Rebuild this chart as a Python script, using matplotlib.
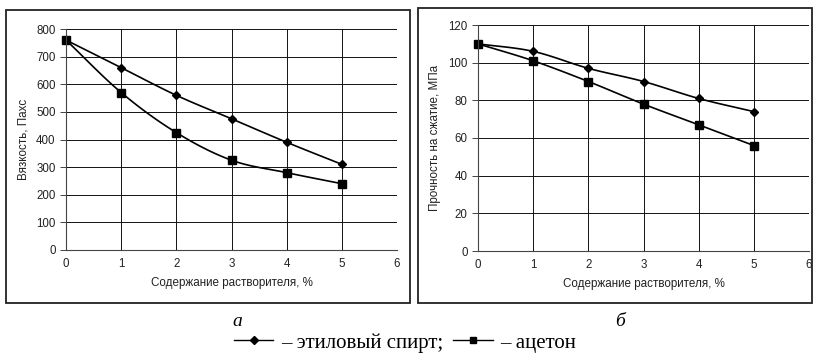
import numpy as np
import matplotlib.pyplot as plt
from matplotlib.lines import Line2D
from matplotlib.patches import Rectangle

x = [0, 1, 2, 3, 4, 5]
visc_ethanol = [760, 660, 560, 475, 390, 310]
visc_acetone = [760, 570, 425, 325, 280, 240]
str_ethanol = [110, 106, 97, 90, 81, 74]
str_acetone = [110, 101, 90, 78, 67, 56]

lbl_ethanol = "– этиловый спирт;"
lbl_acetone = "– ацетон"
xlabel = "Содержание растворителя, %"

plt.rcParams['font.family'] = ['Liberation Sans', 'DejaVu Sans']

W, H = 814, 356


def smooth(xs, ys, n=20):
    # Catmull-Rom curve like Excel's "smoothed line"
    xs = np.asarray(xs, float)
    ys = np.asarray(ys, float)
    px = np.concatenate([[2 * xs[0] - xs[1]], xs, [2 * xs[-1] - xs[-2]]])
    py = np.concatenate([[2 * ys[0] - ys[1]], ys, [2 * ys[-1] - ys[-2]]])
    ox, oy = [], []
    t = np.linspace(0, 1, n)
    for i in range(1, len(px) - 2):
        p0, p1, p2, p3 = [np.array([px[j], py[j]]) for j in range(i - 1, i + 3)]
        c1 = p1 + (p2 - p0) / 6
        c2 = p2 - (p3 - p1) / 6
        pts = ((1 - t) ** 3)[:, None] * p1 + (3 * (1 - t) ** 2 * t)[:, None] * c1 \
            + (3 * (1 - t) * t ** 2)[:, None] * c2 + (t ** 3)[:, None] * p2
        ox.extend(pts[:, 0])
        oy.extend(pts[:, 1])
    return ox, oy


fig = plt.figure(figsize=(W / 100, H / 100), dpi=100)

# outer frames of the two panels
for (x0, y0, x1, y1) in [(6, 10, 410, 303), (418, 8, 812, 303)]:
    fig.patches.append(Rectangle((x0 / W, 1 - y1 / H), (x1 - x0) / W, (y1 - y0) / H,
                                 transform=fig.transFigure, fill=False,
                                 edgecolor='#222222', lw=1.3))


def panel(rect, e, a, ymax, ystep, ylabel):
    l, t, r, b = rect
    ax = fig.add_axes([l / W, 1 - b / H, (r - l) / W, (b - t) / H])
    ax.set_xlim(0, 6)
    ax.set_ylim(0, ymax)
    ax.set_xticks(range(0, 7))
    ax.set_yticks(np.arange(0, ymax + 1, ystep))
    ax.grid(True, color='#111111', lw=0.7)
    ax.set_axisbelow(True)
    for s in ['top', 'right']:
        ax.spines[s].set_visible(False)
    ax.spines['left'].set_color('#444444')
    ax.spines['bottom'].set_color('#444444')
    ax.tick_params(labelsize=8.3, length=4, width=0.7, direction='out', color='#444444',
                   labelcolor='#222222')
    ax.tick_params(axis='x', length=0, pad=6)
    sx, sy = smooth(x, e)
    ax.plot(sx, sy, color='black', lw=1.2, clip_on=False)
    ax.plot(x, e, 'D', color='black', ms=4, clip_on=False)
    sx, sy = smooth(x, a)
    ax.plot(sx, sy, color='black', lw=1.2, clip_on=False)
    ax.plot(x, a, 's', color='black', ms=6, clip_on=False)
    ax.set_xlabel(xlabel, fontsize=8.4, labelpad=5, color='#222222')
    ax.set_ylabel(ylabel, fontsize=8.4, labelpad=5, color='#222222')
    return ax


panel((66, 29, 397, 250), visc_ethanol, visc_acetone, 800, 100, "Вязкость, Пахс")
panel((478, 25, 809, 251), str_ethanol, str_acetone, 120, 20, "Прочность на сжатие, МПа")

fig.text(237 / W, 1 - 322 / H, "а", fontsize=14, style='italic', family='Liberation Serif',
         ha='center', va='center')
fig.text(620 / W, 1 - 322 / H, "б", fontsize=14, style='italic', family='Liberation Serif',
         ha='center', va='center')

handles = [Line2D([], [], color='black', lw=1.0, marker='D', ms=4),
           Line2D([], [], color='black', lw=1.0, marker='s', ms=5)]
fig.legend(handles, [lbl_ethanol, lbl_acetone], ncol=2, loc='center',
           bbox_to_anchor=(405 / W, 1 - 343 / H), frameon=False,
           prop={'family': 'Liberation Serif', 'size': 15},
           handlelength=1.9, handletextpad=0.35, columnspacing=0.5,
           borderpad=0)

fig.savefig("out.png", dpi=100)
